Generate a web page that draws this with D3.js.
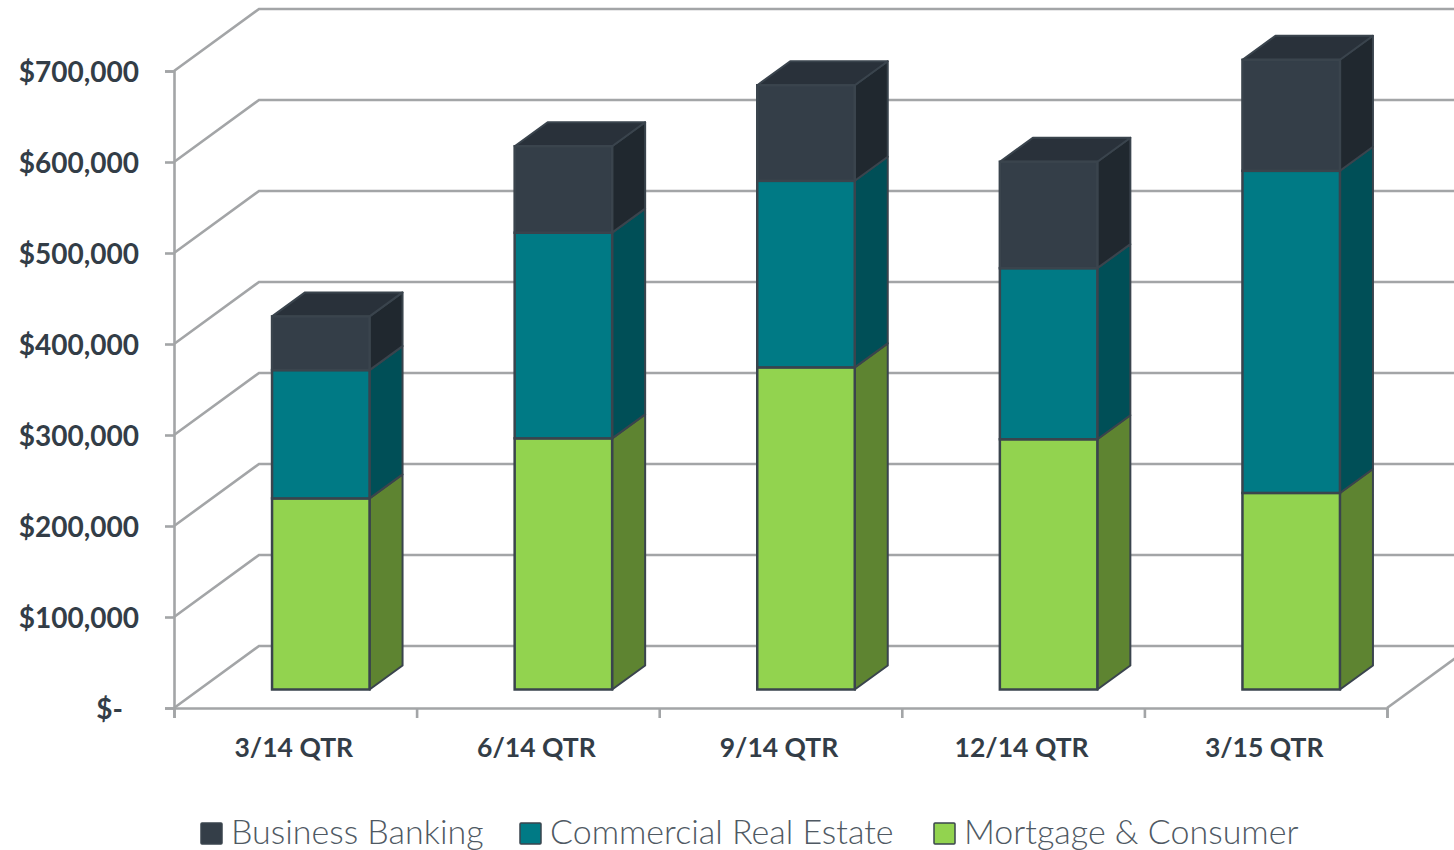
<!DOCTYPE html>
<html>
<head>
<meta charset="utf-8">
<script src="https://d3js.org/d3.v7.min.js"></script>
<style>
  html, body { margin: 0; padding: 0; background: #fff; overflow: hidden; }
  svg { display: block; }
  text { font-family: Lato, "Open Sans", sans-serif; fill: #333d47; }
</style>
</head>
<body>
<div id="tu"></div>
<script>
var categories = ["3/14 QTR", "6/14 QTR", "9/14 QTR", "12/14 QTR", "3/15 QTR"];
var seriesNames = ["Mortgage & Consumer", "Commercial Real Estate", "Business Banking"];
var mortgage = [210000, 276000, 354000, 275000, 216000];
var commercial = [141000, 226000, 205000, 188000, 354000];
var business = [59000, 95000, 105000, 117000, 122000];
var yTicks = [0, 100000, 200000, 300000, 400000, 500000, 600000, 700000];
var legendOrder = ["Business Banking", "Commercial Real Estate", "Mortgage & Consumer"];

var fullWidth = 1454, fullHeight = 850;
var plot = {left: 174, right: 1387, top: 71, bottom: 708};
var wall = {dx: 85, dy: -62};     // front plane to back wall
var barShift = {dx: 25.5, dy: -18.5}; // front plane to front of the bars
var depth = {dx: 33, dy: -24};    // depth of a bar
var barWidth = 97.5;

var colors = {
  "Mortgage & Consumer": {front: "#92d34f", side: "#5e8431", top: "#5e8431"},
  "Commercial Real Estate": {front: "#007a85", side: "#004f57", top: "#004f57"},
  "Business Banking": {front: "#343e48", side: "#20282f", top: "#29313a"}
};
var seriesValues = {
  "Mortgage & Consumer": mortgage,
  "Commercial Real Estate": commercial,
  "Business Banking": business
};

var svg = d3.select("#tu").append("svg")
  .attr("width", fullWidth)
  .attr("height", fullHeight);

var xScale = d3.scaleBand().domain(categories).range([plot.left, plot.right]);
var xEdges = d3.scaleLinear().domain([0, categories.length]).range([plot.left, plot.right]);
var yScale = d3.scaleLinear().domain([0, 700000]).range([plot.bottom, plot.top]);

var grey = "#a3a5a7";

// gridlines: up the side wall, then along the back wall
svg.append("g").selectAll("path")
  .data(yTicks)
  .join("path")
  .attr("d", function(d) {
    var y = yScale(d);
    return d3.line()([[plot.left, y], [plot.left + wall.dx, y + wall.dy], [fullWidth + 20, y + wall.dy]]);
  })
  .attr("fill", "none")
  .attr("stroke", grey)
  .attr("stroke-width", 2.6);

// floor edge on the right
svg.append("path")
  .attr("d", d3.line()([[plot.right, plot.bottom], [plot.right + wall.dx, plot.bottom + wall.dy]]))
  .attr("fill", "none")
  .attr("stroke", grey)
  .attr("stroke-width", 2.6);

// axes
var yAxis = d3.axisLeft(yScale)
  .tickValues(yTicks)
  .tickSize(9)
  .tickPadding(26)
  .tickFormat(function(d) { return d === 0 ? "$-" : "$" + d3.format(",")(d); });

var yG = svg.append("g")
  .attr("transform", "translate(" + plot.left + ",0)")
  .call(yAxis);
yG.selectAll("path,line").attr("stroke", grey).attr("stroke-width", 2.6);
yG.selectAll("text")
  .attr("font-size", 28)
  .attr("font-weight", 700)
  .attr("dy", "0.38em")
  .attr("dx", function(d) { return d === 0 ? -16 : 0; });

var xTickAxis = d3.axisBottom(xEdges).ticks(categories.length).tickSize(10).tickFormat("");
var xG = svg.append("g")
  .attr("transform", "translate(0," + plot.bottom + ")")
  .call(xTickAxis);
xG.selectAll("path,line").attr("stroke", grey).attr("stroke-width", 2.6);

var xLabels = d3.axisBottom(xScale).tickSize(0).tickPadding(30);
var xL = svg.append("g")
  .attr("transform", "translate(-1.5," + plot.bottom + ")")
  .call(xLabels);
xL.select("path").remove();
xL.selectAll("text").attr("font-size", 26.5).attr("font-weight", 700);

// stacks
var rows = categories.map(function(c, i) {
  var row = {category: c};
  seriesNames.forEach(function(s) { row[s] = seriesValues[s][i]; });
  return row;
});
var stacked = d3.stack().keys(seriesNames)(rows);

var outline = "#3a444d";
var layers = svg.append("g").selectAll("g")
  .data(stacked)
  .join("g");

function barX(d) {
  return xScale(d.data.category) + xScale.bandwidth() / 2 - barWidth / 2 + barShift.dx;
}
function barY(v) {
  return yScale(v) + barShift.dy;
}

// side faces
layers.selectAll("path.side")
  .data(function(s) { return s.map(function(d) { return {d: d, key: s.key}; }); })
  .join("path")
  .attr("class", "side")
  .attr("d", function(o) {
    var x = barX(o.d) + barWidth, y0 = barY(o.d[0]), y1 = barY(o.d[1]);
    return d3.line()([[x, y0], [x + depth.dx, y0 + depth.dy], [x + depth.dx, y1 + depth.dy], [x, y1]]) + "Z";
  })
  .attr("fill", function(o) { return colors[o.key].side; })
  .attr("stroke", outline)
  .attr("stroke-width", 2)
  .attr("stroke-linejoin", "round");

// top face, only on the last series
layers.filter(function(s) { return s.key === "Business Banking"; })
  .selectAll("path.top")
  .data(function(s) { return s.map(function(d) { return {d: d, key: s.key}; }); })
  .join("path")
  .attr("class", "top")
  .attr("d", function(o) {
    var x = barX(o.d), y = barY(o.d[1]);
    return d3.line()([[x, y], [x + depth.dx, y + depth.dy], [x + barWidth + depth.dx, y + depth.dy], [x + barWidth, y]]) + "Z";
  })
  .attr("fill", function(o) { return colors[o.key].top; })
  .attr("stroke", outline)
  .attr("stroke-width", 2)
  .attr("stroke-linejoin", "round");

// front faces
layers.selectAll("rect")
  .data(function(s) { return s.map(function(d) { return {d: d, key: s.key}; }); })
  .join("rect")
  .attr("x", function(o) { return barX(o.d); })
  .attr("y", function(o) { return barY(o.d[1]); })
  .attr("width", barWidth)
  .attr("height", function(o) { return barY(o.d[0]) - barY(o.d[1]); })
  .attr("fill", function(o) { return colors[o.key].front; })
  .attr("stroke", outline)
  .attr("stroke-width", 2.5);

// legend
var legendX = [201, 520, 934];
var legend = svg.append("g").selectAll("g")
  .data(legendOrder)
  .join("g")
  .attr("transform", function(d, i) { return "translate(" + legendX[i] + ",823)"; });

legend.append("rect")
  .attr("width", 21)
  .attr("height", 21)
  .attr("rx", 1)
  .attr("fill", function(d) { return colors[d].front; })
  .attr("stroke", outline)
  .attr("stroke-width", 1.5);

legend.append("text")
  .attr("x", 30)
  .attr("y", 21)
  .attr("font-size", 34)
  .attr("font-weight", 300)
  .style("fill", "#4f5963")
  .text(function(d) { return d; });
</script>
</body>
</html>
